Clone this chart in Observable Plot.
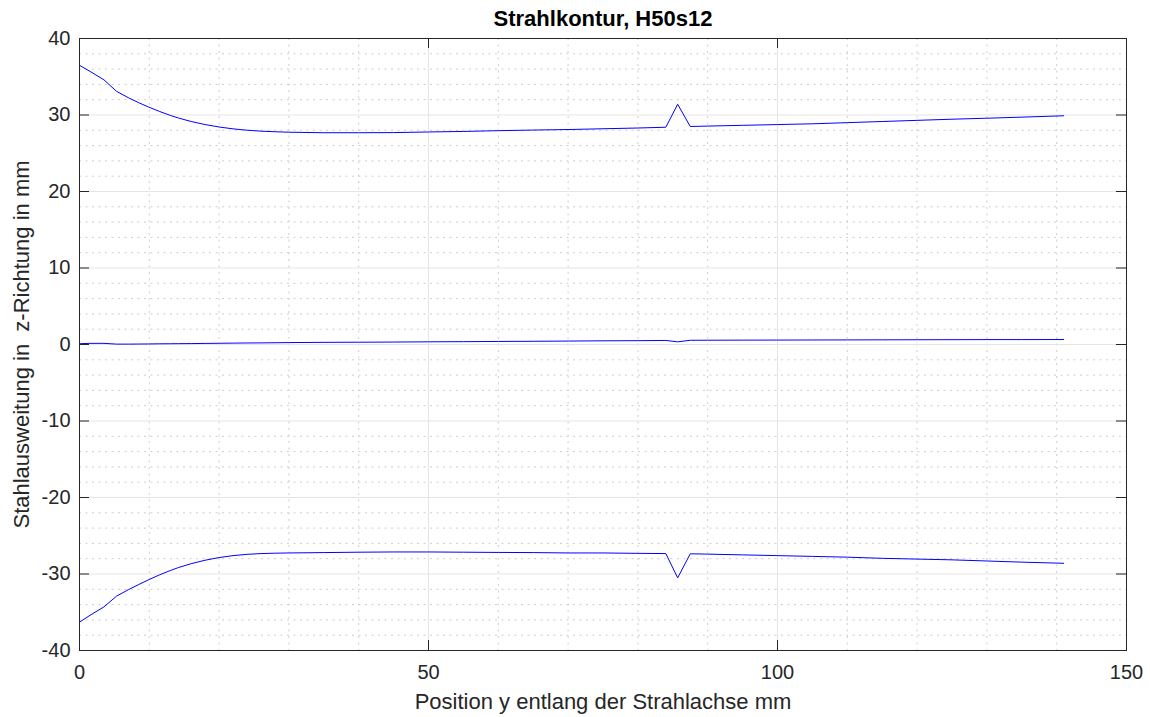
<!DOCTYPE html>
<html>
<head>
<meta charset="utf-8">
<script src="https://cdn.jsdelivr.net/npm/d3@7"></script>
<script src="https://cdn.jsdelivr.net/npm/@observablehq/plot@0.6"></script>
<style>
  html, body { margin: 0; padding: 0; background: #fff; }
  #chart svg { display: block; }
</style>
</head>
<body>
<div id="chart"></div>
<script>
const titleText = "Strahlkontur, H50s12";
const xLabel = "Position y entlang der Strahlachse mm";
const yLabel = "Stahlausweitung in  z-Richtung in mm";

const xTicks = [0, 50, 100, 150];
const yTicks = [-40, -30, -20, -10, 0, 10, 20, 30, 40];
const xMinor = [10, 20, 30, 40, 60, 70, 80, 90, 110, 120, 130, 140];
const yMinor = [-38, -36, -34, -32, -28, -26, -24, -22, -18, -16, -14, -12, -8, -6, -4, -2,
                2, 4, 6, 8, 12, 14, 16, 18, 22, 24, 26, 28, 32, 34, 36, 38];

const posY = [0, 1.5, 3.5, 5.3, 7, 8.5, 9.9, 11.5, 13, 14.2, 16, 18, 20, 22, 24, 26, 28, 30, 35, 40, 45, 50, 55, 60,
              65, 70, 75, 80, 84, 85.7, 87.5, 90, 95, 100, 105, 110, 115, 120, 125, 130, 135, 141];
const upper = [36.5, 35.7, 34.6, 33.1, 32.26, 31.6, 31.04, 30.45, 29.95, 29.6, 29.15, 28.75, 28.43, 28.19,
               28.01, 27.89, 27.81, 27.75, 27.68, 27.68, 27.7, 27.78, 27.85, 27.95, 28.03, 28.1, 28.2, 28.3,
               28.4, 31.4, 28.5, 28.55, 28.65, 28.75, 28.85, 29.0, 29.15, 29.3, 29.45, 29.58, 29.72, 29.9];
const middle = [0.1, 0.15, 0.15, 0.05, 0.05, 0.06, 0.07, 0.09, 0.1, 0.11, 0.12, 0.14, 0.16, 0.18, 0.2, 0.21,
                0.23, 0.25, 0.28, 0.3, 0.32, 0.35, 0.37, 0.4, 0.42, 0.45, 0.48, 0.5, 0.53, 0.35, 0.55,
                0.56, 0.57, 0.58, 0.59, 0.6, 0.61, 0.62, 0.63, 0.64, 0.64, 0.65];
const lower = [-36.3, -35.4, -34.3, -32.9, -32.05, -31.37, -30.76, -30.1, -29.55, -29.15, -28.65, -28.2, -27.85,
               -27.6, -27.43, -27.33, -27.28, -27.25, -27.2, -27.15, -27.12, -27.12, -27.15, -27.18, -27.2,
               -27.25, -27.25, -27.3, -27.33, -30.5, -27.36, -27.4, -27.5, -27.6, -27.7, -27.8, -27.95,
               -28.05, -28.15, -28.3, -28.45, -28.6];

const seriesNames = ["upper", "middle", "lower"];
const seriesValues = [upper, middle, lower];
const rows = seriesNames.flatMap((s, i) => posY.map((x, j) => ({series: s, x, y: seriesValues[i][j]})));

const ink = "#262626";
const font = "Liberation Sans, Arial, Helvetica, sans-serif";

const W = 1150, H = 717;
const mL = 79, mR = 24, mT = 38, mB = 67;
const fw = W - mL - mR, fh = H - mT - mB;
const tk = 10;

const chart = Plot.plot({
  width: W,
  height: H,
  marginLeft: mL,
  marginRight: mR,
  marginTop: mT,
  marginBottom: mB,
  style: {fontFamily: font, background: "#fff", overflow: "visible"},
  x: {domain: [0, 150], ticks: xTicks},
  y: {domain: [-40, 40], ticks: yTicks},
  marks: [
    Plot.ruleX(xMinor, {x: d => d, stroke: "#cdcdcd", strokeWidth: 1, strokeDasharray: "2,4.5"}),
    Plot.ruleY(yMinor, {y: d => d, stroke: "#cdcdcd", strokeWidth: 1, strokeDasharray: "2,4.5"}),
    Plot.ruleX(xTicks, {x: d => d, stroke: "#e5e5e5", strokeWidth: 1}),
    Plot.ruleY(yTicks, {y: d => d, stroke: "#e5e5e5", strokeWidth: 1}),
    Plot.line(rows, {x: "x", y: "y", z: "series", stroke: "#0000ff", strokeWidth: 1}),
    Plot.tickX(xTicks, {x: d => d, insetTop: fh - tk, stroke: ink, strokeWidth: 1}),
    Plot.tickX(xTicks, {x: d => d, insetBottom: fh - tk, stroke: ink, strokeWidth: 1}),
    Plot.tickY(yTicks, {y: d => d, insetRight: fw - tk, stroke: ink, strokeWidth: 1}),
    Plot.tickY(yTicks, {y: d => d, insetLeft: fw - tk, stroke: ink, strokeWidth: 1}),
    Plot.frame({stroke: ink, strokeWidth: 1}),
    Plot.axisX(xTicks, {tickSize: 0, tickPadding: 14, fontSize: 20, fill: ink, label: null, tickFormat: d => String(d)}),
    Plot.axisY(yTicks, {tickSize: 0, tickPadding: 9, fontSize: 20, fill: ink, label: null, tickFormat: d => String(d)}),
    Plot.text([xLabel], {text: d => d, frameAnchor: "bottom", dy: 51, fontSize: 22, fill: ink, lineAnchor: "middle", textAnchor: "middle"}),
    Plot.text([yLabel], {text: d => d, frameAnchor: "left", dx: -58, rotate: -90, fontSize: 22, fill: ink, lineAnchor: "middle", textAnchor: "middle"}),
    Plot.text([titleText], {text: d => d, frameAnchor: "top", dy: -20, fontSize: 22, fontWeight: "bold", fill: "#000", lineAnchor: "middle", textAnchor: "middle"})
  ]
});

document.getElementById("chart").appendChild(chart);
</script>
</body>
</html>
